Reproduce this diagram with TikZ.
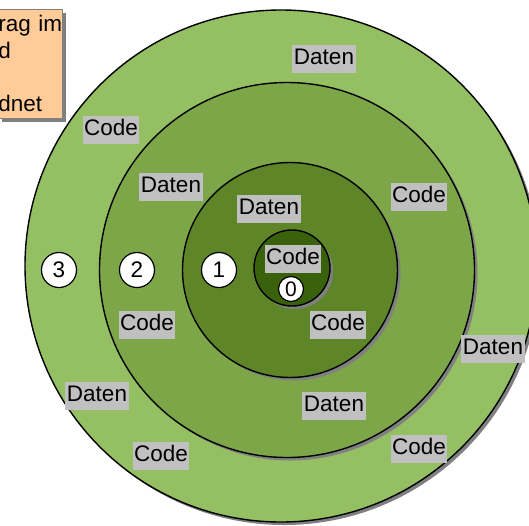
\documentclass[tikz,border=0pt]{standalone}
\usepackage{fontspec}
\setmainfont{Liberation Sans}
\usetikzlibrary{shadows}
\definecolor{ringD}{RGB}{148,191,98}
\definecolor{ringC}{RGB}{125,166,72}
\definecolor{ringB}{RGB}{94,134,40}
\definecolor{ringA}{RGB}{58,98,12}
\definecolor{taggray}{RGB}{192,192,192}
\definecolor{shadowgray}{RGB}{128,128,128}
\definecolor{notefill}{RGB}{255,204,153}
\begin{document}
\begin{tikzpicture}[x=1pt, y=-1pt,
  ring/.style={circle,draw,line width=1.4pt,inner sep=0pt,
    drop shadow={shadow xshift=3pt,shadow yshift=-3pt,fill=shadowgray,opacity=1}},
  tag/.style={fill=taggray,inner xsep=1.5pt,inner ysep=3.5pt,text height=16pt,text depth=4.5pt,
    font=\fontsize{22.5}{22.5}\selectfont},
  level/.style={circle,draw,fill=white,line width=1.2pt,inner sep=0pt,minimum size=35pt,
    font=\fontsize{22.5}{22.5}\selectfont}]

  \useasboundingbox (0,0) rectangle (529,525);

  % Hinweis
  \node [draw=gray,fill=notefill,line width=0.8pt,anchor=north west,align=left,
         text width=64pt,inner xsep=0pt,minimum height=109pt,
         font=\fontsize{22.5}{26.7}\selectfont,
         drop shadow={shadow xshift=4pt,shadow yshift=-4pt,fill=shadowgray,opacity=1}]
    (note) at (-2,9) {rag im\\d\\\mbox{}\\dnet};

  % Ringe
  \node [ring,fill=ringD,minimum size=512pt] (ring3) at (281,266) {};
  \node [ring,fill=ringC,minimum size=375pt] (ring2) at (287,270) {};
  \node [ring,fill=ringB,minimum size=215pt] (ring1) at (290,270) {};
  \node [ring,fill=ringA,minimum size=76pt] (ring0) at (292,268) {};

  % Beschriftungen
  \foreach \x/\y/\t [count=\i] in {324/59/Daten, 111/130/Code, 171/187/Daten, 269/209/Daten,
      419/197/Code, 293/259/Code, 147/325/Code, 338/325/Code, 493/349/Daten,
      97/396/Daten, 334/406/Daten, 419/449/Code, 161/456/Code}
    \node [tag] (tag-\i) at (\x,\y) {\t};

  % Ebenen
  \foreach \x/\l in {59/3,137/2,219/1}
    \node [level] (level-\l) at (\x,270) {\l};
  \node [level,minimum size=25pt,font=\fontsize{21}{21}\selectfont] (level-0) at (291,289) {0};

\end{tikzpicture}
\end{document}
